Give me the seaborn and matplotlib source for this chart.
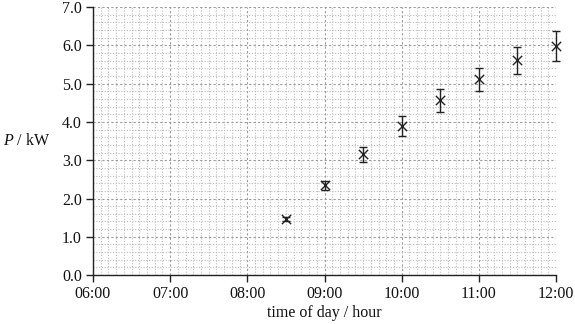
import matplotlib
matplotlib.use("Agg")
import matplotlib.pyplot as plt
import seaborn as sns
import numpy as np
import pandas as pd
from matplotlib.ticker import MultipleLocator

time_h = [8.5, 9.0, 9.5, 10.0, 10.5, 11.0, 11.5, 12.0]
power_kw = [1.47, 2.35, 3.15, 3.90, 4.57, 5.12, 5.61, 5.99]
power_err = [0.06, 0.12, 0.20, 0.26, 0.30, 0.30, 0.36, 0.39]
x_ticks = [6, 7, 8, 9, 10, 11, 12]
x_tick_labels = ["06:00", "07:00", "08:00", "09:00", "10:00", "11:00", "12:00"]
y_ticks = [0, 1, 2, 3, 4, 5, 6, 7]
y_tick_labels = ["0.0", "1.0", "2.0", "3.0", "4.0", "5.0", "6.0", "7.0"]

sns.set_theme(style="white")
plt.rcParams["font.family"] = ["Liberation Serif", "DejaVu Serif"]
plt.rcParams["mathtext.fontset"] = "custom"
plt.rcParams["mathtext.it"] = "Liberation Serif:italic"
plt.rcParams["mathtext.rm"] = "Liberation Serif"

df = pd.DataFrame({"t": time_h, "P": power_kw, "err": power_err})

fig = plt.figure(figsize=(5.75, 3.24), dpi=100)
ax = fig.add_axes([0.1617, 0.151, 0.8053, 0.827])

ax.set_xlim(6, 12)
ax.set_ylim(0, 7)
ax.xaxis.set_minor_locator(MultipleLocator(0.1))
ax.yaxis.set_minor_locator(MultipleLocator(0.2))
ax.grid(which="minor", color="#bdbdbd", linestyle=(0, (1, 1.5)), linewidth=0.8)
ax.grid(which="major", color="#9a9a9a", linestyle=(0, (2, 2)), linewidth=0.8)
ax.set_axisbelow(True)

ax.errorbar(df["t"], df["P"], yerr=df["err"], fmt="none", ecolor="#222222",
            elinewidth=1.0, capsize=3, capthick=1.0, zorder=3, clip_on=False)
sns.scatterplot(data=df, x="t", y="P", ax=ax, marker="x", color="#222222",
                s=45, linewidth=1.0, zorder=4, clip_on=False)

ax.set_xticks(x_ticks)
ax.set_xticklabels(x_tick_labels)
ax.set_yticks(y_ticks)
ax.set_yticklabels(y_tick_labels)
ax.tick_params(axis="both", which="major", direction="out", length=5, width=1,
               color="#222222", labelsize=11.5, labelcolor="#111111", pad=3,
               bottom=True, left=True)
ax.tick_params(axis="both", which="minor", length=0)

for side in ["top", "right"]:
    ax.spines[side].set_visible(False)
for side in ["left", "bottom"]:
    ax.spines[side].set_color("#222222")
    ax.spines[side].set_linewidth(1.0)

ax.set_xlabel("time of day / hour", fontsize=11.5, color="#111111", labelpad=2)
ax.set_ylabel("")
fig.text(0.005, 0.565, r"$P$ / kW", fontsize=11.5, color="#111111",
         ha="left", va="center")

fig.savefig("out.png", dpi=100)
